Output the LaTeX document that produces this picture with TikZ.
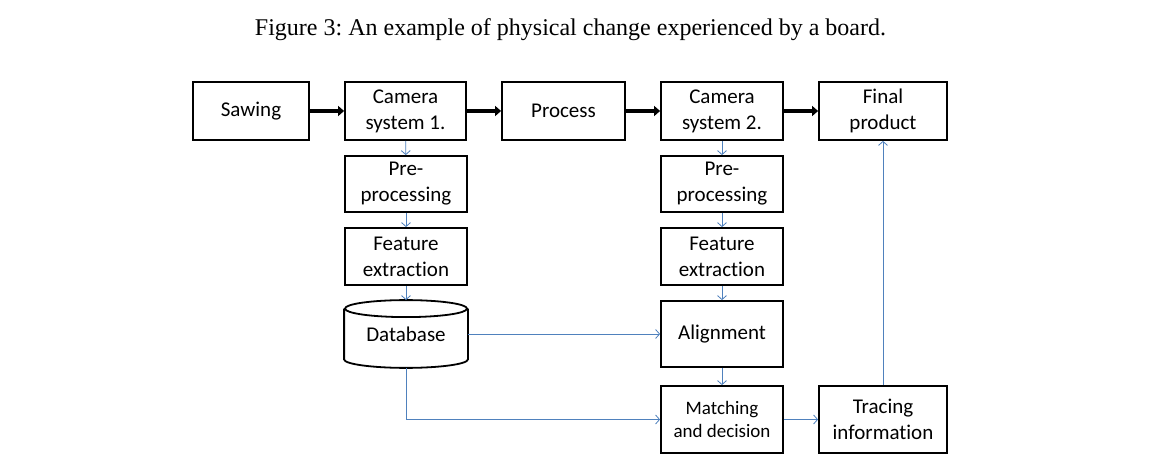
\documentclass[tikz,border=0pt]{standalone}
\usepackage{fontspec}
\setmainfont{Carlito}[Ligatures=NoCommon]
\newfontfamily\capfont{Liberation Serif}
\usetikzlibrary{arrows.meta,calc}
\definecolor{linkblue}{RGB}{79,129,189}
\frenchspacing
\begin{document}
\begin{tikzpicture}[x=1pt,y=-1pt,
  box/.style={draw=black,line width=1.8pt,inner sep=0pt,align=center,
    font=\fontsize{21}{26}\selectfont},
  smallbox/.style={box,font=\fontsize{19}{23}\selectfont},
  bigarrow/.style={line width=4pt,-{Triangle[length=6pt,width=10pt]}},
  bluearrow/.style={draw=linkblue,line width=0.8pt,-{Straight Barb[length=4pt,width=9pt]}}]
\useasboundingbox (0,0) rectangle (1167,454);
\fill[white] (0,0) rectangle (1167,454);
\node[font=\capfont\fontsize{24}{28}\selectfont] (cap) at (570.5,30) {Figure 3: An example of physical change experienced by a board.};
% top row
\node[box,minimum width=116pt,minimum height=58pt] (saw) at (251,111) {Sawing};
\node[box,minimum width=121pt,minimum height=58pt] (cam1) at (405.5,111) {Camera\\system 1.};
\node[box,minimum width=123pt,minimum height=58pt] (proc) at (563.5,111) {Process};
\node[box,minimum width=122pt,minimum height=58pt] (cam2) at (722,111) {Camera\\system 2.};
\node[box,minimum width=128pt,minimum height=58pt] (fin) at (883,111) {Final\\product};
% columns
\node[box,minimum width=122pt,minimum height=56pt] (pre1) at (406,184) {Pre-\\processing};
\node[box,minimum width=122pt,minimum height=56pt] (pre2) at (722,184) {Pre-\\processing};
\node[box,minimum width=122pt,minimum height=57pt] (fe1) at (406,256.5) {Feature\\extraction};
\node[box,minimum width=122pt,minimum height=57pt] (fe2) at (722,256.5) {Feature\\extraction};
\node[box,draw=none,minimum width=122pt,minimum height=66pt] (db) at (406,334) {\raisebox{-4pt}{Database}};
\node[box,minimum width=122pt,minimum height=66pt] (align) at (722,334) {Alignment};
\node[smallbox,minimum width=122pt,minimum height=67pt] (match) at (722,419.5) {Matching\\and decision};
\node[box,minimum width=128pt,minimum height=67pt] (trace) at (883,419.5) {Tracing\\information};
% cylinder
\draw[line width=1.8pt] ($(db.north)+(0,8.5)$) ellipse[x radius=61pt,y radius=8.5pt];
\draw[line width=1.8pt] ($(db.north west)+(0,8.5)$) -- ($(db.south west)+(0,-8.5)$)
  .. controls ($(db.south west)+(0,-3.8)$) and ($(db.south)+(-33.7,0)$) .. (db.south)
  .. controls ($(db.south)+(33.7,0)$) and ($(db.south east)+(0,-3.8)$) .. ($(db.south east)+(0,-8.5)$)
  -- ($(db.north east)+(0,8.5)$);
% thick arrows
\draw[bigarrow] (saw.east) -- (cam1.west);
\draw[bigarrow] (cam1.east) -- (proc.west);
\draw[bigarrow] (proc.east) -- (cam2.west);
\draw[bigarrow] (cam2.east) -- (fin.west);
% blue arrows
\draw[bluearrow] (cam1) -- (pre1);
\draw[bluearrow] (pre1) -- (fe1);
\draw[bluearrow] (fe1) -- (db);
\draw[bluearrow] (cam2) -- (pre2);
\draw[bluearrow] (pre2) -- (fe2);
\draw[bluearrow] (fe2) -- (align);
\draw[bluearrow] (align) -- (match);
\draw[bluearrow] (db.east) -- (align.west);
\draw[bluearrow] (db.south) |- (match.west);
\draw[bluearrow] (match) -- (trace);
\draw[bluearrow] (trace) -- (fin);
\end{tikzpicture}
\end{document}
